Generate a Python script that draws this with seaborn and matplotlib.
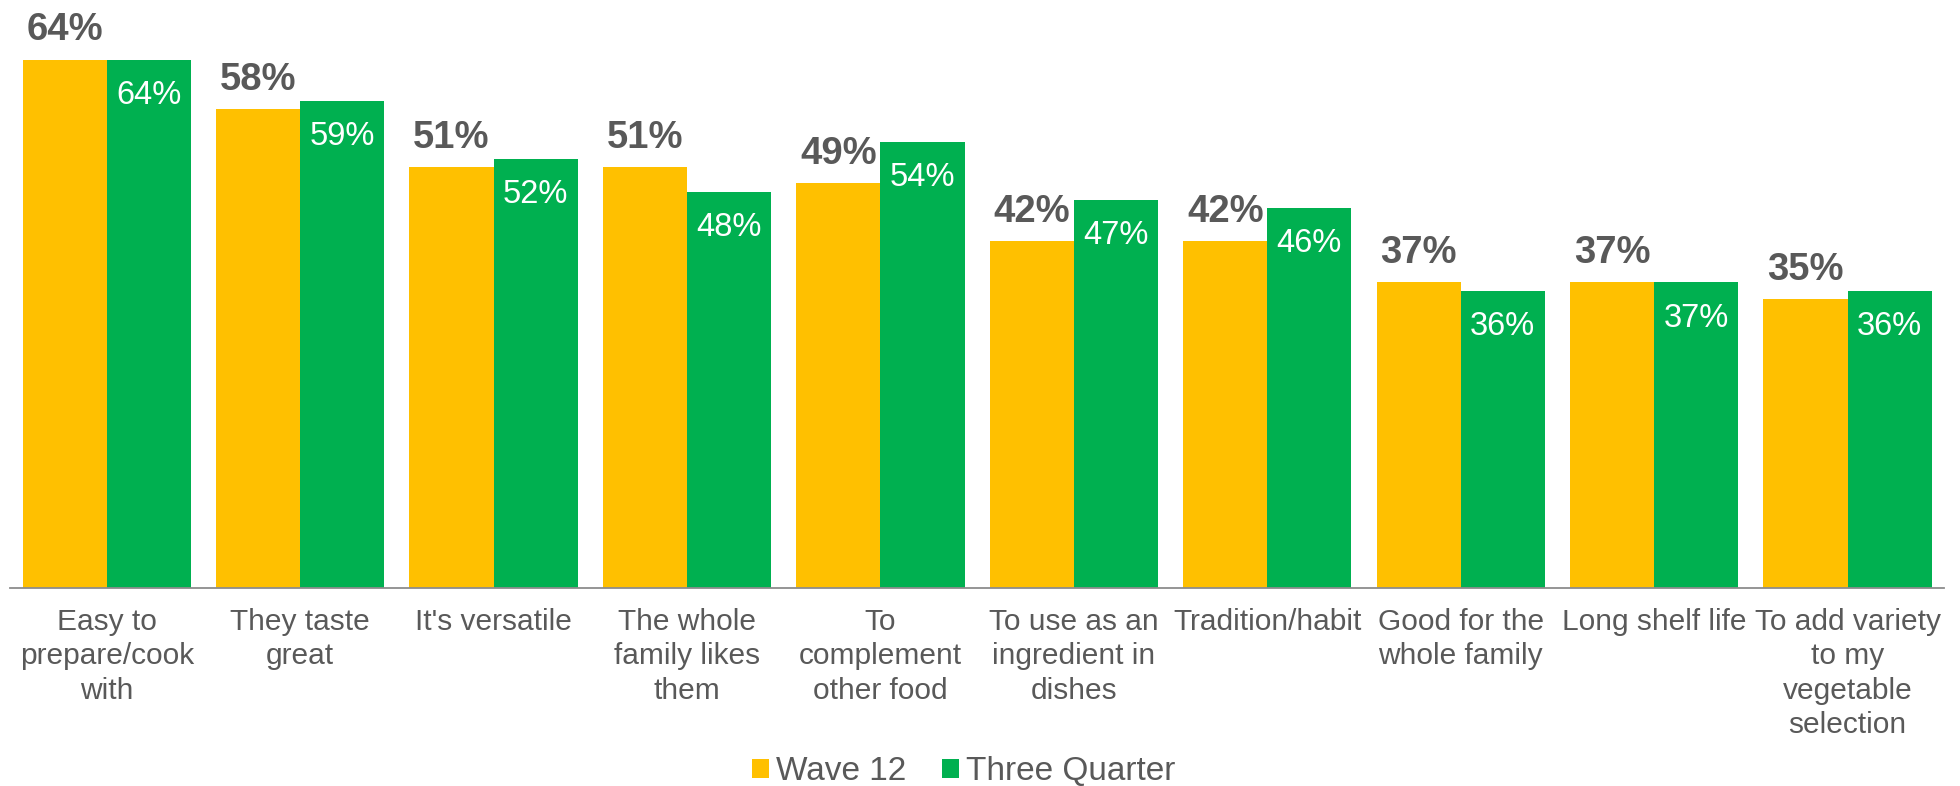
import matplotlib
matplotlib.use("Agg")
import matplotlib.pyplot as plt
from matplotlib.patches import Patch
import numpy as np
import pandas as pd
import seaborn as sns

reasons = [
    "Easy to\nprepare/cook\nwith",
    "They taste\ngreat",
    "It's versatile",
    "The whole\nfamily likes\nthem",
    "To\ncomplement\nother food",
    "To use as an\ningredient in\ndishes",
    "Tradition/habit",
    "Good for the\nwhole family",
    "Long shelf life",
    "To add variety\nto my\nvegetable\nselection",
]
wave12 = [64, 58, 51, 51, 49, 42, 42, 37, 37, 35]
three_quarter = [64, 59, 52, 48, 54, 47, 46, 36, 37, 36]
series_names = ["Wave 12", "Three Quarter"]

YELLOW = "#FFC000"
GREEN = "#00B050"
GREY_TEXT = "#595959"
AXIS_GREY = "#8C8C8C"

sns.set_theme(style="white")
plt.rcParams["font.family"] = ["Liberation Sans", "DejaVu Sans"]

df = pd.DataFrame({
    "reason": reasons * 2,
    "value": wave12 + three_quarter,
    "wave": [series_names[0]] * len(reasons) + [series_names[1]] * len(reasons),
})

W, H = 1960, 786
fig = plt.figure(figsize=(W / 100, H / 100), dpi=100)
ax = fig.add_axes([10 / W, 1 - 587.5 / H, 1934.3 / W, 577.5 / H])

sns.barplot(
    data=df, x="reason", y="value", hue="wave",
    hue_order=series_names, order=reasons,
    palette=[YELLOW, GREEN], width=0.87, gap=0, saturation=1,
    linewidth=0, legend=False, ax=ax,
)

ax.set_ylim(0, 70)
ax.set_xlim(-0.5, len(reasons) - 0.5)
ax.set_xlabel("")
ax.set_ylabel("")
ax.set_yticks([])

for side in ["left", "right", "top"]:
    ax.spines[side].set_visible(False)
ax.spines["bottom"].set_color(AXIS_GREY)
ax.spines["bottom"].set_linewidth(1.3)

# category labels centred, boundary tick marks between categories
ax.set_xticks(range(len(reasons)))
ax.set_xticklabels(reasons, fontsize=21.5, color=GREY_TEXT, linespacing=1.28,
                   multialignment="center")
ax.tick_params(axis="x", which="major", length=0, pad=15)
ax.set_xticks(np.arange(-0.5, len(reasons), 1.0), minor=True)
ax.tick_params(axis="x", which="minor", length=6, width=1.3, color=AXIS_GREY,
               direction="out")

wave_bars, tq_bars = ax.containers[0], ax.containers[1]
ax.bar_label(wave_bars, labels=[f"{v}%" for v in wave12], padding=8,
             fontsize=27.5, fontweight="bold", color=GREY_TEXT)
ax.bar_label(tq_bars, labels=[f"{v}%" for v in three_quarter], padding=-37,
             fontsize=23.5, color="white")

handles = [Patch(facecolor=YELLOW, edgecolor="none"),
           Patch(facecolor=GREEN, edgecolor="none")]
fig.legend(handles, series_names, loc="center", bbox_to_anchor=(963.5 / W, 1 - 772 / H),
           ncol=2, frameon=False, fontsize=24, labelcolor=GREY_TEXT,
           handlelength=0.52, handleheight=0.52, handletextpad=0.2,
           columnspacing=1.08, borderpad=0)

fig.savefig("out.png", dpi=100, facecolor="white")
